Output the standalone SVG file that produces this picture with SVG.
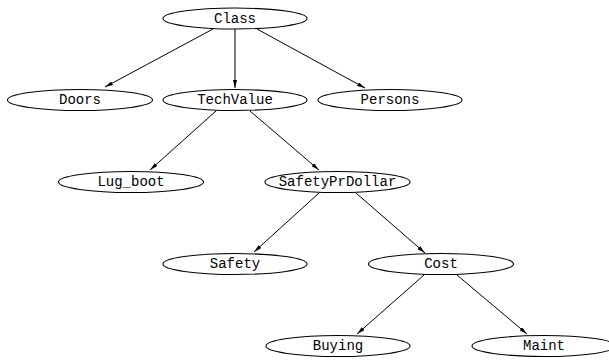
<svg xmlns="http://www.w3.org/2000/svg" width="609" height="362" viewBox="0 0 609 362">
<style>
.n ellipse{fill:#fff;stroke:#000;stroke-width:1.1}
.n text{font-family:"Liberation Mono","DejaVu Sans Mono",monospace;font-size:14px;text-anchor:middle;dominant-baseline:central;fill:#000}
.e line{stroke:#000;stroke-width:1;marker-end:url(#a)}
</style>
<defs>
<marker id="a" viewBox="0 0 8 4" refX="8" refY="2" markerWidth="8" markerHeight="4" markerUnits="userSpaceOnUse" orient="auto">
<path d="M0,0 L8,2 L0,4 Z" fill="#000"/>
</marker>
</defs>
<g id="edges" class="e">
<line x1="213" y1="29" x2="105" y2="87"/>
<line x1="235" y1="29" x2="235" y2="88"/>
<line x1="257" y1="29" x2="365" y2="88"/>
<line x1="216" y1="111" x2="150" y2="170"/>
<line x1="250" y1="111" x2="319" y2="170"/>
<line x1="319" y1="193" x2="254" y2="252"/>
<line x1="356" y1="193" x2="425" y2="253"/>
<line x1="424" y1="275" x2="357" y2="334"/>
<line x1="457" y1="275" x2="527" y2="334"/>
</g>
<g id="Class" class="n"><ellipse cx="235" cy="18.5" rx="72" ry="10.5"/><text x="235" y="18.5">Class</text></g>
<g id="Doors" class="n"><ellipse cx="80" cy="100" rx="72.5" ry="10.5"/><text x="80" y="100">Doors</text></g>
<g id="TechValue" class="n"><ellipse cx="235" cy="100" rx="72" ry="10.5"/><text x="235" y="100">TechValue</text></g>
<g id="Persons" class="n"><ellipse cx="390" cy="100" rx="72" ry="10.5"/><text x="390" y="100">Persons</text></g>
<g id="Lug_boot" class="n"><ellipse cx="131" cy="182" rx="72.5" ry="10.5"/><text x="131" y="182">Lug_boot</text></g>
<g id="SafetyPrDollar" class="n"><ellipse cx="337.5" cy="182" rx="72.5" ry="10.5"/><text x="337.5" y="182">SafetyPrDollar</text></g>
<g id="Safety" class="n"><ellipse cx="235" cy="264" rx="72" ry="10.5"/><text x="235" y="264">Safety</text></g>
<g id="Cost" class="n"><ellipse cx="441" cy="264" rx="72.5" ry="10.5"/><text x="441" y="264">Cost</text></g>
<g id="Buying" class="n"><ellipse cx="338" cy="346" rx="72" ry="10.5"/><text x="338" y="346">Buying</text></g>
<g id="Maint" class="n"><ellipse cx="544" cy="346" rx="72" ry="10.5"/><text x="544" y="346">Maint</text></g>
</svg>
